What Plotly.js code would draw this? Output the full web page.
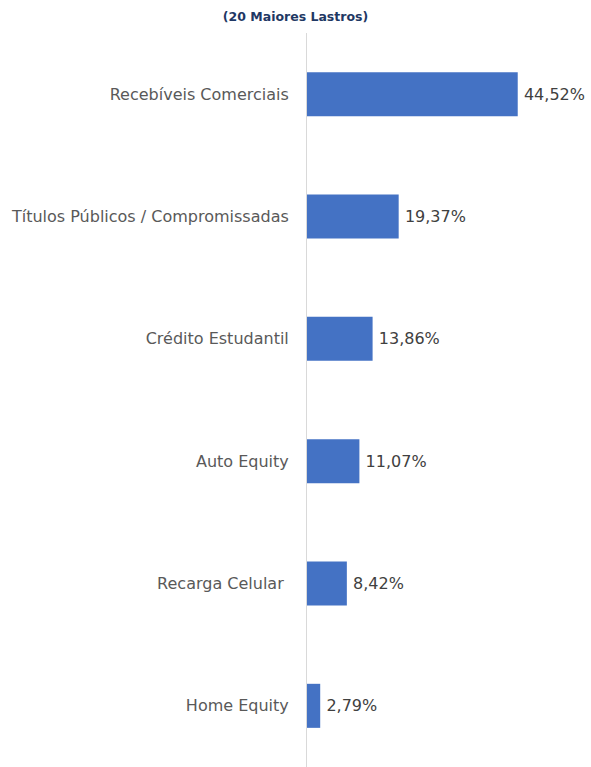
<!DOCTYPE html>
<html>
<head>
<meta charset="utf-8">
<script src="https://cdn.plot.ly/plotly-3.0.1.min.js"></script>
<style>html,body{margin:0;padding:0;background:#fff;}#chart{width:591px;height:767px;}</style>
</head>
<body>
<div id="chart"></div>
<script>
const categories = ["Recebíveis Comerciais", "Títulos Públicos / Compromissadas", "Crédito Estudantil", "Auto Equity", "Recarga Celular ", "Home Equity"];
const values = [44.52, 19.37, 13.86, 11.07, 8.42, 2.79];
const labels = ["44,52%", "19,37%", "13,86%", "11,07%", "8,42%", "2,79%"];

const font = "'DejaVu Sans', sans-serif";
Plotly.newPlot('chart', [{
  type: 'bar',
  orientation: 'h',
  y: categories,
  x: values,
  text: labels,
  texttemplate: '\u2009%{text}',
  textposition: 'outside',
  textfont: {family: font, size: 16, color: '#404040'},
  cliponaxis: false,
  marker: {color: '#4472C4'},
  width: 0.36,
  hoverinfo: 'none'
}], {
  width: 591, height: 767,
  margin: {l: 307, r: 0, t: 33, b: 0},
  paper_bgcolor: '#fff', plot_bgcolor: '#fff',
  title: {text: '<b>(20 Maiores Lastros)</b>', font: {family: font, size: 12.5, color: '#1F3864'}, x: 0.5, xanchor: 'center', y: 0.978, yanchor: 'middle'},
  xaxis: {range: [0, 60], visible: false, fixedrange: true},
  yaxis: {autorange: 'reversed', showline: true, linecolor: '#D9D9D9', linewidth: 1, ticks: '', showgrid: false, zeroline: false,
          tickfont: {family: font, size: 16, color: '#595959'}, ticklabelstandoff: 14},
  showlegend: false
}, {displayModeBar: false, staticPlot: true});
</script>
</body>
</html>
